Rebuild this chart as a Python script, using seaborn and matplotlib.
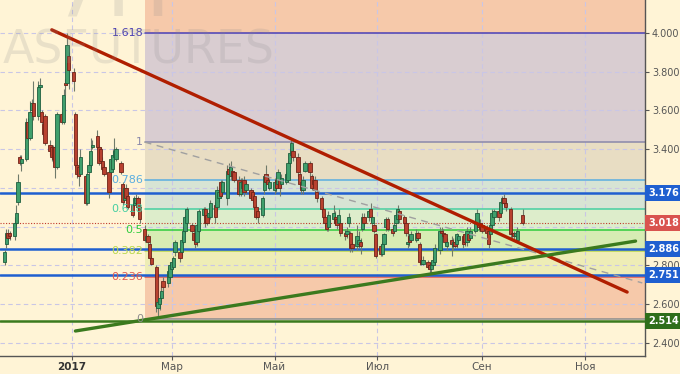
import numpy as np
import pandas as pd
import matplotlib
matplotlib.use("Agg")
import matplotlib.pyplot as plt
import matplotlib.transforms as mtransforms
import seaborn as sns

# ---------------- data ----------------
start_date = "2016-11-22"
opens = [2.82,2.91,2.97,2.97,2.95,3.02,3.13,3.36,3.33,3.35,
         3.54,3.46,3.60,3.64,3.57,3.72,3.59,3.53,3.57,3.42,
         3.41,3.41,3.41,3.31,3.58,3.54,3.74,3.74,3.88,3.80,
         3.58,3.32,3.31,3.27,3.26,3.12,3.28,3.32,3.41,3.47,
         3.41,3.40,3.34,3.31,3.28,3.28,3.30,3.36,3.35,3.33,
         3.22,3.14,3.20,3.16,3.11,3.11,3.12,3.15,3.10,2.99,
         2.93,2.95,2.91,2.84,2.79,2.58,2.60,2.63,2.72,2.71,
         2.74,2.78,2.79,2.87,2.87,2.87,2.92,2.98,3.02,3.01,
         2.97,2.97,2.92,2.98,3.06,3.09,3.06,3.05,3.05,3.11,
         3.10,3.15,3.23,3.18,3.15,3.30,3.26,3.29,3.28,3.24,
         3.17,3.20,3.24,3.19,3.19,3.18,3.16,3.10,3.08,3.06,
         3.19,3.27,3.24,3.20,3.19,3.24,3.22,3.24,3.22,3.23,
         3.24,3.33,3.37,3.39,3.36,3.27,3.23,3.19,3.29,3.33,
         3.26,3.24,3.24,3.18,3.15,3.09,3.05,3.02,3.00,3.04,
         3.05,3.04,3.02,3.02,2.97,2.96,3.02,2.97,2.91,2.90,
         2.91,2.92,2.99,3.05,3.05,3.09,3.02,3.01,2.96,2.90,
         2.86,2.91,3.00,3.04,2.99,2.98,3.02,3.04,3.08,3.05,
         3.02,2.91,2.95,2.93,2.93,2.97,2.91,2.83,2.81,2.82,
         2.80,2.78,2.80,2.82,2.88,2.98,2.97,2.96,2.90,2.93,
         2.90,2.92,2.91,2.93,2.95,2.96,2.92,2.96,2.94,2.98,
         3.02,3.02,3.02,3.01,2.99,2.98,2.96,3.01,3.05,3.08,
         3.07,3.12,3.15,3.12,3.09,2.97,2.97,2.95,2.93,3.06]
closes = [2.87,2.97,2.94,2.95,3.02,3.07,3.23,3.33,3.35,3.54,
          3.46,3.59,3.64,3.57,3.72,3.73,3.54,3.48,3.43,3.39,
          3.36,3.35,3.31,3.58,3.54,3.68,3.73,3.94,3.81,3.75,
          3.32,3.27,3.26,3.36,3.12,3.27,3.32,3.39,3.42,3.41,
          3.33,3.34,3.30,3.27,3.18,3.35,3.37,3.39,3.40,3.28,
          3.13,3.20,3.15,3.10,3.06,3.15,3.15,3.10,3.04,2.93,
          2.95,2.92,2.84,2.81,2.59,2.61,2.63,2.67,2.69,2.77,
          2.80,2.82,2.84,2.92,2.84,2.93,2.98,3.05,3.09,2.98,
          2.93,2.91,3.01,3.08,3.09,3.02,3.02,3.07,3.12,3.05,
          3.19,3.18,3.16,3.23,3.29,3.27,3.31,3.26,3.24,3.17,
          3.23,3.23,3.18,3.22,3.15,3.14,3.10,3.05,3.05,3.15,
          3.26,3.23,3.22,3.23,3.23,3.20,3.28,3.20,3.25,3.27,
          3.33,3.38,3.43,3.36,3.28,3.22,3.19,3.24,3.33,3.28,
          3.20,3.22,3.19,3.15,3.09,3.05,3.02,2.99,3.06,3.07,
          3.02,3.01,3.06,2.97,2.95,2.98,3.05,2.89,2.89,2.95,
          2.93,2.90,3.05,3.02,3.08,3.05,3.05,2.98,2.85,2.86,
          2.91,2.96,3.04,2.99,2.97,3.01,3.06,3.09,3.04,3.02,
          2.97,2.92,2.92,2.96,2.97,2.94,2.82,2.81,2.83,2.79,
          2.78,2.80,2.83,2.89,2.98,2.97,2.95,2.92,2.92,2.91,
          2.92,2.90,2.96,2.95,2.91,2.92,2.98,2.93,2.98,3.02,
          3.07,3.00,2.99,2.98,2.97,2.91,3.01,3.07,3.08,3.05,
          3.13,3.15,3.12,3.10,2.96,2.96,2.95,2.97,2.98,3.018]
highs = [2.88,2.99,2.99,2.98,3.05,3.11,3.27,3.37,3.37,3.56,
         3.56,3.65,3.66,3.75,3.75,3.77,3.60,3.55,3.58,3.45,
         3.42,3.42,3.42,3.59,3.59,3.71,3.76,4.00,3.90,3.82,
         3.59,3.34,3.32,3.40,3.27,3.28,3.34,3.46,3.45,3.50,
         3.42,3.41,3.36,3.33,3.29,3.37,3.40,3.46,3.41,3.34,
         3.23,3.22,3.22,3.18,3.12,3.16,3.17,3.16,3.11,3.01,
         2.96,2.96,2.92,2.85,2.80,2.62,2.65,2.70,2.74,2.79,
         2.82,2.84,2.85,2.93,2.89,2.95,3.00,3.06,3.10,3.02,
         2.99,2.99,3.02,3.09,3.10,3.10,3.08,3.09,3.14,3.13,
         3.21,3.20,3.24,3.24,3.32,3.33,3.34,3.31,3.29,3.26,
         3.25,3.25,3.26,3.23,3.20,3.19,3.18,3.11,3.09,3.16,
         3.27,3.32,3.26,3.25,3.25,3.26,3.30,3.26,3.27,3.28,
         3.34,3.40,3.45,3.41,3.38,3.28,3.24,3.26,3.34,3.34,
         3.27,3.26,3.26,3.19,3.16,3.10,3.07,3.04,3.08,3.11,
         3.08,3.06,3.09,3.04,2.99,3.00,3.07,2.98,2.92,3.01,
         2.98,2.94,3.07,3.07,3.09,3.12,3.06,3.02,2.97,2.91,
         2.92,2.97,3.05,3.05,3.01,3.02,3.08,3.11,3.09,3.06,
         3.04,2.98,2.96,2.98,2.99,2.98,2.92,2.85,2.85,2.83,
         2.82,2.82,2.85,2.91,3.00,3.00,2.99,2.97,2.94,2.95,
         2.94,2.94,2.97,2.96,2.96,2.97,3.00,2.97,3.00,3.04,
         3.09,3.04,3.04,3.02,3.01,3.00,3.02,3.09,3.09,3.09,
         3.14,3.16,3.17,3.14,3.10,2.98,2.98,2.98,3.00,3.09]
lows = [2.80,2.89,2.93,2.93,2.93,3.01,3.11,3.32,3.29,3.34,
        3.45,3.45,3.59,3.55,3.55,3.71,3.53,3.47,3.42,3.37,
        3.34,3.33,3.25,3.30,3.53,3.53,3.68,3.73,3.71,3.70,
        3.31,3.25,3.21,3.26,3.11,3.11,3.27,3.31,3.40,3.40,
        3.32,3.33,3.29,3.26,3.15,3.27,3.29,3.34,3.34,3.27,
        3.11,3.12,3.14,3.09,3.05,3.10,3.11,3.09,3.02,2.92,
        2.92,2.91,2.83,2.80,2.56,2.53,2.57,2.61,2.67,2.69,
        2.73,2.76,2.78,2.85,2.82,2.85,2.91,2.97,3.01,2.97,
        2.92,2.89,2.90,2.97,3.05,3.00,3.01,3.03,3.04,3.02,
        3.08,3.13,3.15,3.16,3.11,3.25,3.24,3.24,3.23,3.16,
        3.16,3.18,3.16,3.17,3.14,3.12,3.09,3.04,3.02,3.05,
        3.17,3.22,3.20,3.19,3.17,3.18,3.20,3.16,3.20,3.22,
        3.23,3.31,3.35,3.34,3.26,3.20,3.17,3.17,3.28,3.26,
        3.19,3.20,3.17,3.13,3.07,3.04,3.00,2.98,2.98,3.02,
        3.01,2.99,3.01,2.95,2.93,2.94,3.00,2.87,2.87,2.88,
        2.89,2.86,2.98,3.00,3.03,3.03,3.00,2.97,2.84,2.85,
        2.85,2.89,2.98,2.98,2.95,2.97,3.01,3.02,3.02,3.00,
        2.95,2.89,2.90,2.92,2.92,2.93,2.80,2.80,2.80,2.78,
        2.76,2.76,2.79,2.80,2.86,2.95,2.94,2.91,2.88,2.85,
        2.88,2.89,2.89,2.92,2.89,2.90,2.90,2.92,2.93,2.97,
        3.00,2.98,2.98,2.97,2.95,2.89,2.94,2.99,3.04,3.03,
        3.06,3.11,3.11,3.08,2.94,2.94,2.93,2.93,2.92,3.01]

month_ticks = ["2017-01-01", "2017-03-01", "2017-05-01", "2017-07-01", "2017-09-01", "2017-11-01"]
month_labels = ["2017", "Мар", "Май", "Июл", "Сен", "Ноя"]
price_ticks = [2.4, 2.6, 2.8, 3.0, 3.2, 3.4, 3.6, 3.8, 4.0]
hidden_price_labels = [3.0, 3.2]   # covered by the value boxes in the reference

fib_zero = 2.526
fib_one = 3.437
fib_start = "2017-02-13"
fib_ratios = [0, 0.236, 0.382, 0.5, 0.618, 0.786, 1, 1.618]
fib_labels = ["0", "0.236", "0.382", "0.5", "0.618", "0.786", "1", "1.618"]
fib_line_colors = ["#8c8c8c", "#e05a50", "#b9d84c", "#2fcc3c", "#46cfa2", "#5aaee0", "#8a88aa", "#4b40b4"]
fib_band_colors = ["#f6c9aa", "#eeedb6", "#d7ecb4", "#ddedcb", "#d7e4d4", "#e8ddc3", "#d9cdd1", "#f6c9aa"]

blue_levels = [3.176, 2.886, 2.751]
support_level = 2.514
last_price = 3.018

red_trend_dates = ["2016-12-20", "2017-11-26"]
red_trend_prices = [4.016, 2.663]
green_trend_dates = ["2017-01-03", "2017-12-01"]
green_trend_prices = [2.462, 2.926]
grey_trend_dates = ["2017-02-13", "2017-12-05"]
grey_trend_prices = [3.437, 2.710]

# ---------------- helpers ----------------
origin = pd.Timestamp("2017-01-01")
def to_days(d):
    if isinstance(d, str):
        return float((pd.Timestamp(d) - origin).days)
    return np.asarray((pd.to_datetime(d) - origin).days, dtype=float)

dates = pd.bdate_range(start_date, periods=len(opens))
xs = np.asarray((dates - origin).days, dtype=float)
o = np.array(opens); c = np.array(closes); h = np.array(highs); l = np.array(lows)

# ---------------- style ----------------
sns.set_style("white")
plt.rcParams["font.family"] = ["DejaVu Sans"]
bg = "#fff4d6"

fig = plt.figure(figsize=(6.8, 3.74), dpi=100, facecolor=bg)
ax = fig.add_axes([0.0, 18 / 374, 645 / 680, 356 / 374])
ax.set_facecolor(bg)
xmin, xmax = -42.7, 339.6
ymin, ymax = 2.333, 4.170
ax.set_xlim(xmin, xmax)
ax.set_ylim(ymin, ymax)

# Fibonacci bands
fx0 = to_days(fib_start)
rng = fib_one - fib_zero
fib_vals = [fib_zero + r * rng for r in fib_ratios]
band_edges = fib_vals + [ymax]
for i in range(len(fib_vals)):
    ax.fill_between([fx0, xmax], band_edges[i], band_edges[i + 1],
                    color=fib_band_colors[i], lw=0, zorder=0.5)

# grid
for yt in price_ticks:
    ax.axhline(yt, color="#c9c6e6", lw=0.8, ls=(0, (4, 3)), zorder=0.8)
for mt in month_ticks:
    ax.axvline(to_days(mt), color="#c9c6e6", lw=0.8, ls=(0, (4, 3)), zorder=0.8)

# watermark
fig.text(3 / 680, 1 - 63 / 374, "ASFUTURES", fontsize=33, color="#8a8a8a",
         alpha=0.18, va="baseline", ha="left", zorder=1)
fig.text(52 / 680, 1 - 15 / 374, "7H", fontsize=62, color="#8a8a8a",
         alpha=0.18, va="baseline", ha="left", zorder=1)

# fib lines and labels
for v, lab, col in zip(fib_vals, fib_labels, fib_line_colors):
    ax.plot([fx0, xmax], [v, v], color=col, lw=1.1, zorder=2)
    ax.text(fx0 - 0.8, v, lab, color=col, fontsize=8, ha="right", va="center", zorder=8)

# horizontal levels
for lv in blue_levels:
    ax.axhline(lv, color="#1f5fd0", lw=1.8, zorder=3)
ax.axhline(support_level, color="#3b7a1e", lw=1.8, zorder=3)
ax.axhline(last_price, color="#c0392b", lw=0.8, ls=(0, (1, 1.5)), zorder=3)

# candles
up = c >= o
green_face, green_edge = "#3f9f6c", "#1f5e3e"
red_face, red_edge = "#b8412f", "#6e2318"
edge_cols = np.where(up, green_edge, red_edge)
ax.vlines(xs, l, h, colors="#6f7a6a", lw=0.8, zorder=4)
ax.bar(xs, np.maximum(np.abs(c - o), 0.004), bottom=np.minimum(o, c), width=2.0,
       color=np.where(up, green_face, red_face), edgecolor=edge_cols, linewidth=0.6, zorder=5)

# trend lines
trends = pd.DataFrame({
    "x": list(to_days(red_trend_dates)) + list(to_days(green_trend_dates)) + list(to_days(grey_trend_dates)),
    "y": red_trend_prices + green_trend_prices + grey_trend_prices,
    "name": ["red"] * 2 + ["green"] * 2 + ["grey"] * 2,
})
sns.lineplot(data=trends[trends.name == "grey"], x="x", y="y", color="#a0a0a0", lw=1.0,
             linestyle=(0, (5, 4)), ax=ax, zorder=6, legend=False)
sns.lineplot(data=trends[trends.name == "red"], x="x", y="y", color="#b01e00", lw=2.4,
             ax=ax, zorder=7, legend=False)
sns.lineplot(data=trends[trends.name == "green"], x="x", y="y", color="#3b7a1e", lw=2.4,
             ax=ax, zorder=7, legend=False)
ax.set_xlabel(""); ax.set_ylabel("")

# axes styling
for s in ["left", "top"]:
    ax.spines[s].set_visible(False)
for s in ["right", "bottom"]:
    ax.spines[s].set_visible(True)
    ax.spines[s].set_color("#555555")
    ax.spines[s].set_linewidth(1.0)
ax.yaxis.tick_right()
ax.set_yticks(price_ticks)
ax.set_yticklabels(["" if t in hidden_price_labels else f"{t:.3f}" for t in price_ticks])
ax.set_xticks([to_days(m) for m in month_ticks])
ax.set_xticklabels(month_labels)
ax.tick_params(axis="y", right=True, length=3, width=0.8, color="#555555",
               labelsize=7, labelcolor="#555555", pad=2)
ax.tick_params(axis="x", bottom=True, length=3, width=0.8, color="#555555",
               labelsize=7.5, labelcolor="#555555", pad=1.5)
ax.get_xticklabels()[0].set_fontweight("bold")
ax.get_xticklabels()[0].set_color("#333333")

# right value boxes
trans = mtransforms.blended_transform_factory(ax.transAxes, ax.transData)
boxes = [(blue_levels[0], "#1f5fd0"), (last_price, "#d9534f"), (blue_levels[1], "#1f5fd0"),
         (blue_levels[2], "#1f5fd0"), (support_level, "#2e6e1a")]
for val, col in boxes:
    ax.text(1.005, val, f"{val:.3f}", transform=trans, ha="left", va="center",
            fontsize=7, fontweight="bold", color="white", zorder=20, clip_on=False,
            bbox=dict(boxstyle="square,pad=0.3", fc=col, ec="none"))

fig.savefig("out.png", dpi=100, facecolor=bg)
